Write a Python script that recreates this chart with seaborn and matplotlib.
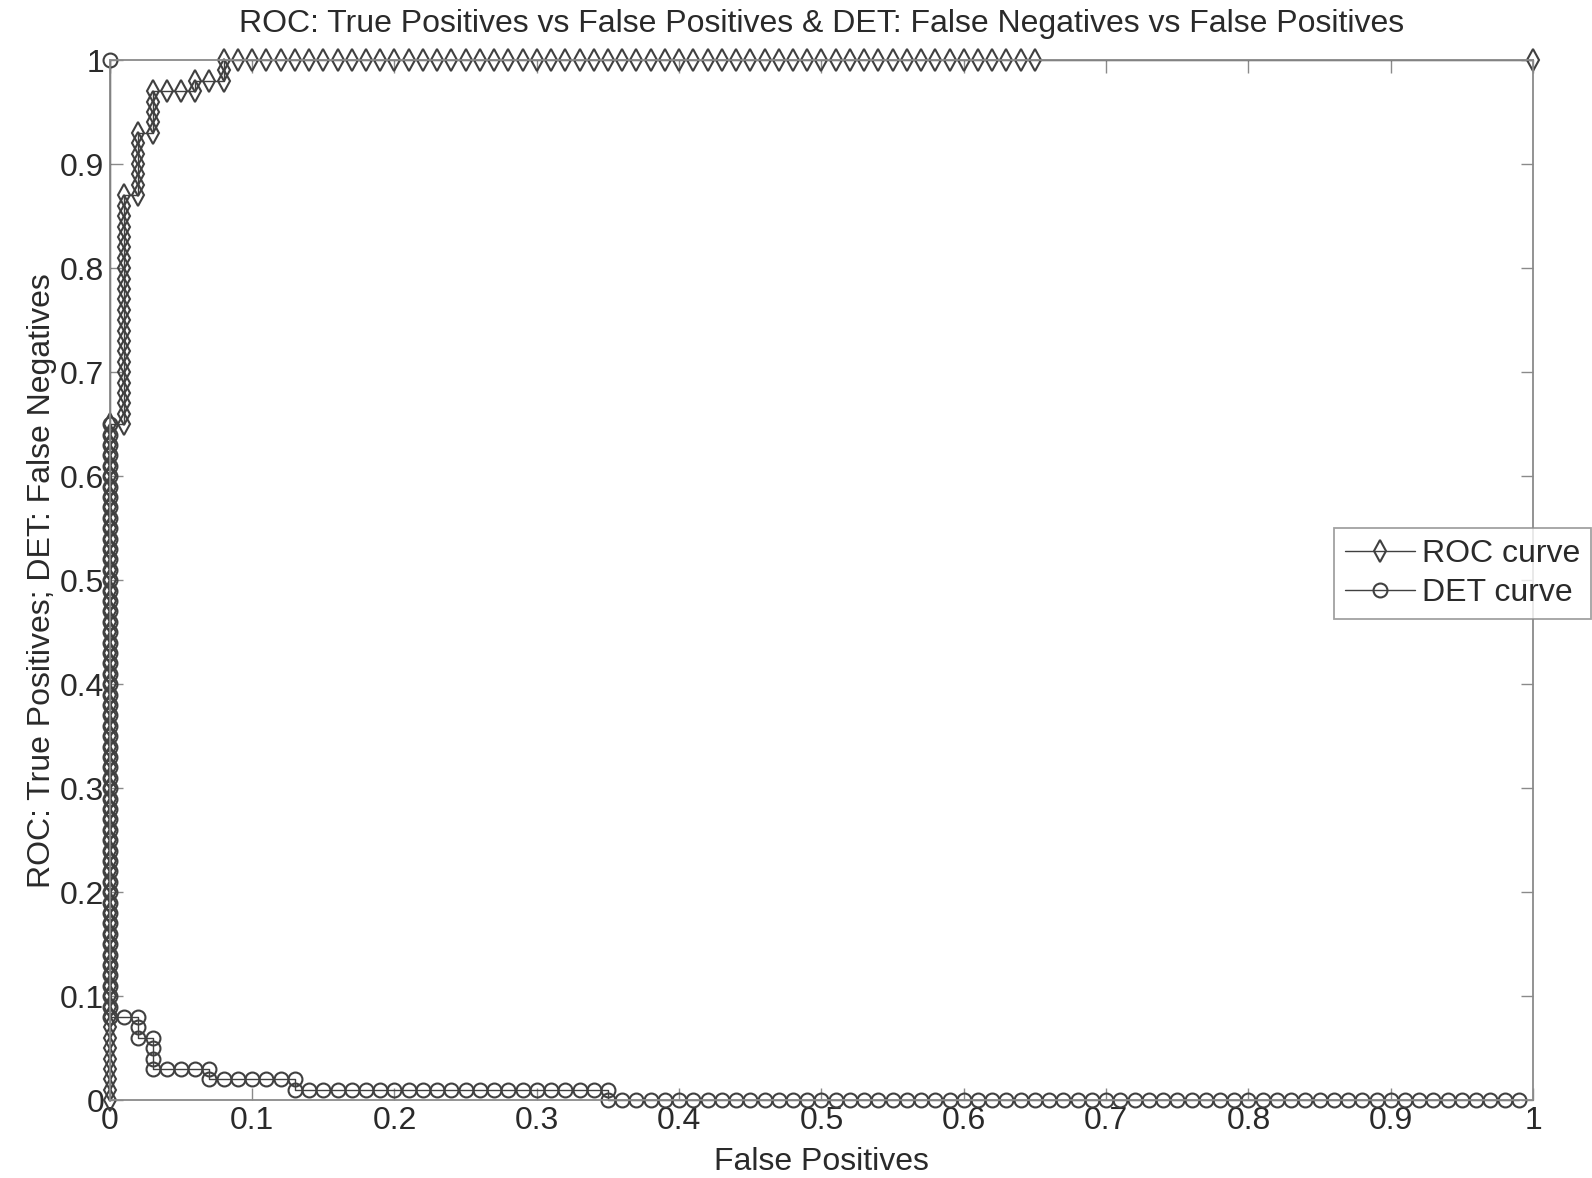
import numpy as np
import pandas as pd
import matplotlib
matplotlib.use("Agg")
import matplotlib.pyplot as plt
import seaborn as sns

# values in hundredths
roc_fp_pct = [
    0, 0, 0, 0, 0, 0, 0, 0, 0, 0, 0, 0, 0, 0, 0, 0, 0, 0, 0, 0,
    0, 0, 0, 0, 0, 0, 0, 0, 0, 0, 0, 0, 0, 0, 0, 0, 0, 0, 0, 0,
    0, 0, 0, 0, 0, 0, 0, 0, 0, 0, 0, 0, 0, 0, 0, 0, 0, 0, 0, 0,
    0, 0, 0, 0, 0, 0,
    1, 1, 1, 1, 1, 1, 1, 1, 1, 1, 1, 1, 1, 1, 1, 1, 1, 1, 1, 1, 1, 1, 1,
    2, 2, 2, 2, 2, 2, 2,
    3, 3, 3, 3, 3,
    4, 5, 6, 6, 7, 8, 8, 8,
    9, 10, 11, 12, 13, 14, 15, 16, 17, 18, 19, 20, 21, 22, 23, 24, 25,
    26, 27, 28, 29, 30, 31, 32, 33, 34, 35, 36, 37, 38, 39, 40, 41, 42,
    43, 44, 45, 46, 47, 48, 49, 50, 51, 52, 53, 54, 55, 56, 57, 58, 59,
    60, 61, 62, 63, 64, 65,
    100]
roc_tp_pct = [
    0, 1, 2, 3, 4, 5, 6, 7, 8, 9, 10, 11, 12, 13, 14, 15, 16, 17, 18, 19,
    20, 21, 22, 23, 24, 25, 26, 27, 28, 29, 30, 31, 32, 33, 34, 35, 36, 37,
    38, 39, 40, 41, 42, 43, 44, 45, 46, 47, 48, 49, 50, 51, 52, 53, 54, 55,
    56, 57, 58, 59, 60, 61, 62, 63, 64, 65,
    65, 66, 67, 68, 69, 70, 71, 72, 73, 74, 75, 76, 77, 78, 79, 80, 81, 82,
    83, 84, 85, 86, 87,
    87, 88, 89, 90, 91, 92, 93,
    93, 94, 95, 96, 97,
    97, 97, 97, 98, 98, 98, 99, 100,
    100, 100, 100, 100, 100, 100, 100, 100, 100, 100, 100, 100, 100, 100,
    100, 100, 100, 100, 100, 100, 100, 100, 100, 100, 100, 100, 100, 100,
    100, 100, 100, 100, 100, 100, 100, 100, 100, 100, 100, 100, 100, 100,
    100, 100, 100, 100, 100, 100, 100, 100, 100, 100, 100, 100, 100, 100,
    100,
    100]

det_fp_pct = [
    0,
    0, 0, 0, 0, 0, 0, 0, 0, 0, 0, 0, 0, 0, 0, 0, 0, 0, 0, 0, 0,
    0, 0, 0, 0, 0, 0, 0, 0, 0, 0, 0, 0, 0, 0, 0, 0, 0, 0, 0, 0,
    0, 0, 0, 0, 0, 0, 0, 0, 0, 0, 0, 0, 0, 0, 0, 0, 0, 0,
    1,
    2, 2, 2,
    3, 3, 3, 3,
    4, 5, 6, 7, 7,
    8, 9, 10, 11, 12, 13, 13,
    14, 15, 16, 17, 18, 19, 20, 21, 22, 23, 24, 25, 26, 27, 28, 29, 30,
    31, 32, 33, 34, 35, 35,
    36, 37, 38, 39, 40, 41, 42, 43, 44, 45, 46, 47, 48, 49, 50, 51, 52,
    53, 54, 55, 56, 57, 58, 59, 60, 61, 62, 63, 64, 65, 66, 67, 68, 69,
    70, 71, 72, 73, 74, 75, 76, 77, 78, 79, 80, 81, 82, 83, 84, 85, 86,
    87, 88, 89, 90, 91, 92, 93, 94, 95, 96, 97, 98, 99]
det_fn_pct = [
    100,
    65, 64, 63, 62, 61, 60, 59, 58, 57, 56, 55, 54, 53, 52, 51, 50, 49, 48,
    47, 46, 45, 44, 43, 42, 41, 40, 39, 38, 37, 36, 35, 34, 33, 32, 31, 30,
    29, 28, 27, 26, 25, 24, 23, 22, 21, 20, 19, 18, 17, 16, 15, 14, 13, 12,
    11, 10, 9, 8,
    8,
    8, 7, 6,
    6, 5, 4, 3,
    3, 3, 3, 3, 2,
    2, 2, 2, 2, 2, 2, 1,
    1, 1, 1, 1, 1, 1, 1, 1, 1, 1, 1, 1, 1, 1, 1, 1, 1,
    1, 1, 1, 1, 1, 0,
    0, 0, 0, 0, 0, 0, 0, 0, 0, 0, 0, 0, 0, 0, 0, 0, 0,
    0, 0, 0, 0, 0, 0, 0, 0, 0, 0, 0, 0, 0, 0, 0, 0, 0,
    0, 0, 0, 0, 0, 0, 0, 0, 0, 0, 0, 0, 0, 0, 0, 0, 0,
    0, 0, 0, 0, 0, 0, 0, 0, 0, 0, 0, 0, 0]

tick_values = [0, 0.1, 0.2, 0.3, 0.4, 0.5, 0.6, 0.7, 0.8, 0.9, 1]
tick_labels = ["0", "0.1", "0.2", "0.3", "0.4", "0.5", "0.6", "0.7", "0.8", "0.9", "1"]

roc = pd.DataFrame({"fp": np.array(roc_fp_pct) / 100, "y": np.array(roc_tp_pct) / 100})
det = pd.DataFrame({"fp": np.array(det_fp_pct) / 100, "y": np.array(det_fn_pct) / 100})

sns.set_style("white")
plt.rcParams["font.family"] = ["Liberation Sans", "DejaVu Sans"]

line_col = "#404040"
axis_col = "#8a8a8a"
text_col = "#2a2a2a"
fs = 23

fig = plt.figure(figsize=(15.92, 11.78), dpi=100)
ax = fig.add_axes([0.069, 0.066, 0.894, 0.883])

sns.lineplot(data=roc, x="fp", y="y", sort=False, estimator=None, ax=ax,
             color=line_col, linewidth=1.0, marker="d", markersize=11,
             markerfacecolor="none", markeredgecolor=line_col,
             markeredgewidth=1.5, label="ROC curve", clip_on=False)
sns.lineplot(data=det, x="fp", y="y", sort=False, estimator=None, ax=ax,
             color=line_col, linewidth=1.0, marker="o", markersize=10,
             markerfacecolor="none", markeredgecolor=line_col,
             markeredgewidth=1.5, label="DET curve", clip_on=False)

ax.set_xlim(0, 1)
ax.set_ylim(0, 1)
ax.set_xticks(tick_values)
ax.set_xticklabels(tick_labels)
ax.set_yticks(tick_values)
ax.set_yticklabels(tick_labels)
ax.tick_params(direction="in", length=9, width=1.0, colors=axis_col,
               labelcolor=text_col, labelsize=fs, top=True, right=True,
               bottom=True, left=True, pad=4)
for sp in ax.spines.values():
    sp.set_color(axis_col)
    sp.set_linewidth(1.3)

ax.set_title("ROC: True Positives vs False Positives & DET: False Negatives vs False Positives",
             fontsize=fs, color=text_col, pad=20)
ax.set_xlabel("False Positives", fontsize=fs, color=text_col, labelpad=8)
ax.set_ylabel("ROC: True Positives; DET: False Negatives", fontsize=fs,
              color=text_col, labelpad=2)

leg = ax.legend(loc="center right", bbox_to_anchor=(0.9995, 0.513),
                bbox_transform=fig.transFigure, fontsize=fs, frameon=True,
                fancybox=False, handlelength=2.2, handletextpad=0.2,
                borderpad=0.35, labelspacing=0.28, borderaxespad=0)
leg.get_frame().set_edgecolor(axis_col)
leg.get_frame().set_linewidth(1.3)
for t in leg.get_texts():
    t.set_color(text_col)

fig.savefig("out.png", dpi=100)
